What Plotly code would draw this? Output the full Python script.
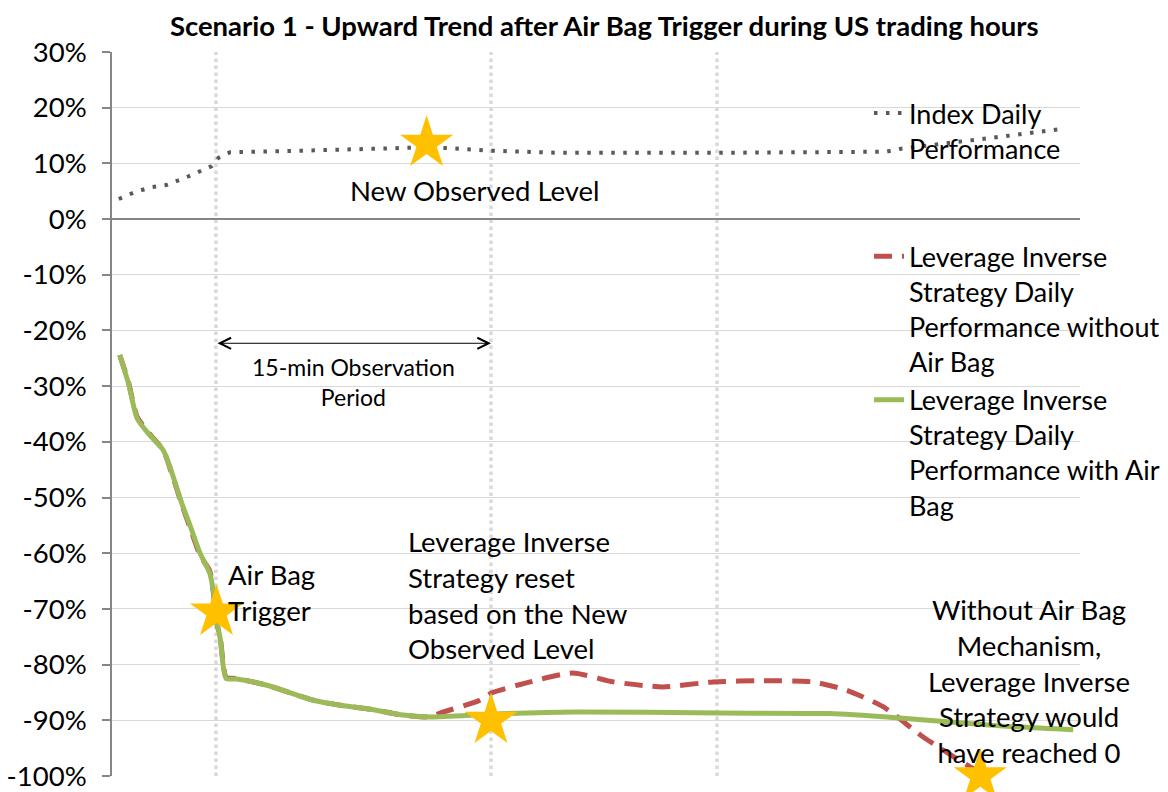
import plotly.graph_objects as go

# ---- data (time in arbitrary session units, values in %) ----
index_t = [0.7, 2.3, 4.0, 5.6, 7.8, 9.1, 10.3, 11.0, 12.2, 20.0, 30.0, 33.0, 39.0, 46.0, 62.5, 76.0, 80.0, 81.4, 87.6, 92.8, 98.2]
index_v = [3.6, 4.8, 5.7, 6.1, 7.6, 8.6, 9.5, 11.0, 12.0, 12.3, 12.7, 12.9, 12.3, 11.9, 11.9, 12.0, 12.1, 12.6, 14.0, 15.0, 16.2]

with_t = [0.8, 1.7, 2.6, 3.9, 5.3, 6.1, 7.2, 8.1, 9.1, 10.1, 10.5, 10.8, 11.2, 11.5, 11.8, 12.9, 16.0, 20.8, 23.6, 26.7, 29.8, 32.9, 39.2, 47.8, 62.8, 74.2, 81.4, 86.6, 91.7, 99.3]
with_v = [-24.4, -29.5, -35.8, -38.8, -41.5, -45.1, -51.0, -55.2, -60.0, -63.6, -67.2, -72.0, -75.6, -80.4, -82.5, -82.6, -83.7, -86.4, -87.3, -88.0, -89.0, -89.4, -88.9, -88.5, -88.7, -88.8, -89.6, -90.3, -91.0, -91.7]

without_t = [0.8, 1.7, 2.6, 3.9, 5.3, 6.1, 7.2, 8.1, 9.1, 10.1, 10.5, 10.8, 11.2, 11.5, 11.8, 12.9, 16.0, 20.8, 23.6, 26.7, 29.8, 32.9, 33.9, 38.0, 39.2, 43.2, 47.6, 51.8, 56.9, 62.1, 67.3, 72.4, 75.9, 79.7, 83.8, 88.3, 89.2]
without_v = [-24.4, -29.3, -35.5, -38.6, -41.5, -45.3, -51.2, -55.6, -60.4, -63.2, -67.5, -72.3, -75.4, -80.0, -82.3, -82.5, -83.7, -86.4, -87.3, -88.0, -89.0, -89.4, -88.7, -86.4, -85.1, -83.1, -81.5, -83.1, -84.0, -83.1, -82.9, -83.1, -84.6, -87.6, -93.0, -98.0, -98.9]

star_t = [10.8, 32.5, 39.15, 89.7]
star_v = [-70.6, 13.6, -90.0, -100.0]

vline_t = [10.74, 39.15, 62.5]

obs_start, obs_end, obs_level = 10.74, 39.15, -22.3

y_ticks = list(range(-100, 31, 10))
y_labels = [f"{v}%" for v in y_ticks]

FONT = "Lato, Carlito, Calibri, sans-serif"
FS = 27.5

fig = go.Figure()

fig.add_trace(go.Scatter(
    x=index_t, y=index_v, mode="lines", name="Index Daily<br>Performance",
    line=dict(color="#595959", width=4, dash="3.5px,8.5px"), legend="legend"))
fig.add_trace(go.Scatter(
    x=without_t, y=without_v, mode="lines",
    name="Leverage Inverse<br>Strategy Daily<br>Performance without<br>Air Bag",
    line=dict(color="#C0504D", width=5, dash="18px,10px", shape="spline", smoothing=0.6),
    legend="legend2"))
fig.add_trace(go.Scatter(
    x=with_t, y=with_v, mode="lines",
    name="Leverage Inverse<br>Strategy Daily<br>Performance with Air<br>Bag",
    line=dict(color="#9BBB59", width=5, shape="spline", smoothing=0.6),
    legend="legend2"))
fig.add_trace(go.Scatter(
    x=star_t, y=star_v, mode="markers", showlegend=False, cliponaxis=False,
    marker=dict(symbol="star", size=40, color="#FFC000", line=dict(width=0))))

for t in vline_t:
    fig.add_shape(type="line", xref="x", yref="y", x0=t, x1=t, y0=-100, y1=30,
                  line=dict(color="#D9D9D9", width=3.5, dash="dot"), layer="below")

# double-headed arrow for observation period
fig.add_annotation(x=obs_end, y=obs_level, ax=obs_start, ay=obs_level,
                   xref="x", yref="y", axref="x", ayref="y", text="",
                   showarrow=True, arrowhead=5, startarrowhead=5, arrowside="end+start",
                   arrowsize=2.2, startarrowsize=2.2, arrowwidth=1, arrowcolor="black",
                   standoff=0, startstandoff=0)

ann_font = dict(family=FONT, size=FS, color="black")
fig.add_annotation(x=37.5, y=5.1, xref="x", yref="y", text="New Observed Level",
                   showarrow=False, font=ann_font, xanchor="center", yanchor="middle")
fig.add_annotation(x=24.9, y=-29.3, xref="x", yref="y", text="15-min Observation<br>Period",
                   showarrow=False, font=dict(family=FONT, size=23, color="black"),
                   xanchor="center", yanchor="middle", align="center")
fig.add_annotation(x=11.78, y=-67.1, xref="x", yref="y", text="Air Bag<br>Trigger",
                   showarrow=False, font=ann_font, xanchor="left", yanchor="middle", align="left")
fig.add_annotation(x=30.37, y=-67.45, xref="x", yref="y",
                   text="Leverage Inverse<br>Strategy reset<br>based on the New<br>Observed Level",
                   showarrow=False, font=ann_font, xanchor="left", yanchor="middle", align="left")
fig.add_annotation(x=94.7, y=-83.0, xref="x", yref="y",
                   text="Without Air Bag<br>Mechanism,<br>Leverage Inverse<br>Strategy would<br>have reached 0",
                   showarrow=False, font=ann_font, xanchor="center", yanchor="middle", align="center")

# page body has an 8px default margin: figure is 1160x784 placed at (8, 8)
fig.update_layout(
    width=1160, height=784,
    margin=dict(l=104, r=88, t=44, b=16, autoexpand=False),
    paper_bgcolor="white", plot_bgcolor="white",
    font=dict(family=FONT, color="black"),
    title=dict(text="<b>Scenario 1 - Upward Trend after Air Bag Trigger during US trading hours</b>",
               x=0.514, xanchor="center", y=0.976, yanchor="middle",
               font=dict(family=FONT, size=27.5, color="black")),
    xaxis=dict(range=[0, 100], showgrid=False, zeroline=False, showticklabels=False,
               showline=False, ticks="", automargin=False),
    yaxis=dict(range=[-100, 30], tickvals=y_ticks, ticktext=y_labels, automargin=False,
               showgrid=True, gridcolor="#D9D9D9", gridwidth=1.3,
               zeroline=True, zerolinecolor="#868686", zerolinewidth=1.6,
               showline=True, linecolor="#868686", linewidth=1.6,
               ticks="outside", ticklen=8, tickcolor="#868686", tickwidth=1.6,
               ticklabelstandoff=10,
               tickfont=dict(family=FONT, size=FS, color="black")),
    legend=dict(x=0.782, y=0.949, xanchor="left", yanchor="top", bgcolor="rgba(0,0,0,0)",
                font=dict(family=FONT, size=27, color="black"), valign="top", itemwidth=30),
    legend2=dict(x=0.782, y=0.751, xanchor="left", yanchor="top", bgcolor="rgba(0,0,0,0)",
                 font=dict(family=FONT, size=27, color="black"), valign="top", itemwidth=30,
                 tracegroupgap=0),
)

fig.write_html("out.html")
